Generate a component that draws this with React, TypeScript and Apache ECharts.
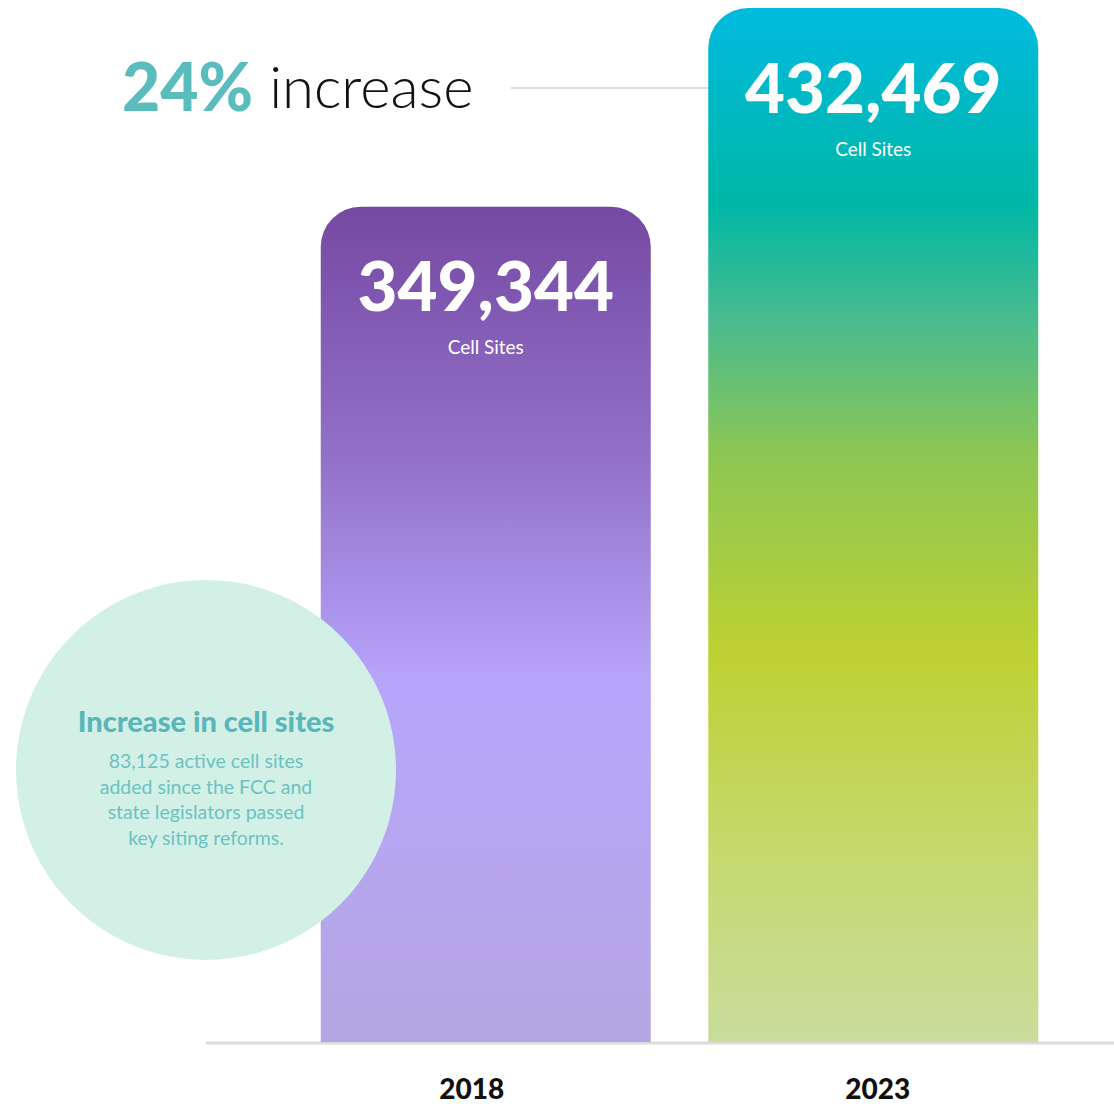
import React, { useEffect, useRef } from "react";
import * as echarts from "echarts";

const categories = ["2018", "2023"];
const cellSites = [349344, 432469];
const valueLabels = ["349,344", "432,469"];
const unitLabel = "Cell Sites";
const headlinePct = "24%";
const headlineWord = "increase";
const bubbleTitle = "Increase in cell sites";
const bubbleLines = [
  "83,125 active cell sites",
  "added since the FCC and",
  "state legislators passed",
  "key siting reforms.",
];

const FONT = "Lato, 'Noto Sans', sans-serif";

export default function App() {
  const ref = useRef<HTMLDivElement>(null);
  useEffect(() => {
    document.body.style.margin = "0";
    const chart = echarts.init(ref.current!, null, { renderer: "svg" });
    const grad2018 = new echarts.graphic.LinearGradient(0, 0, 0, 1, [
      { offset: 0, color: "#7549a2" },
      { offset: 0.3, color: "#9270c9" },
      { offset: 0.57, color: "#b8a5fc" },
      { offset: 1, color: "#b4a6e2" },
    ]);
    const grad2023 = new echarts.graphic.LinearGradient(0, 0, 0, 1, [
      { offset: 0, color: "#00bbe0" },
      { offset: 0.19, color: "#00b7a6" },
      { offset: 0.3, color: "#48bb8f" },
      { offset: 0.43, color: "#8cc654" },
      { offset: 0.62, color: "#bdd132" },
      { offset: 0.82, color: "#c6d86e" },
      { offset: 1, color: "#c9dd9c" },
    ]);
    const grads = [grad2018, grad2023];
    chart.setOption({
      animation: false,
      grid: { left: 292, right: 47, top: 8, bottom: 62, containLabel: false },
      xAxis: {
        type: "category",
        data: categories,
        axisLine: { show: false },
        axisTick: { show: false },
        axisLabel: {
          margin: 31,
          formatter: (v: string, i: number) => (i === 0 ? `{a|${v}}` : `{b|${v}}`),
          rich: {
            a: { fontSize: 28, fontWeight: 900, color: "#111", fontFamily: FONT, lineHeight: 30, padding: [0, 28, 0, 0] },
            b: { fontSize: 28, fontWeight: 900, color: "#111", fontFamily: FONT, lineHeight: 30, padding: [0, 0, 0, 9] },
          },
        },
      },
      yAxis: {
        type: "value",
        min: 0,
        max: cellSites[1],
        show: false,
        splitLine: { show: false },
      },
      series: [
        {
          type: "bar",
          barWidth: 330,
          z: 2,
          data: cellSites.map((v, i) => ({
            value: v,
            itemStyle: { color: grads[i], borderRadius: [40, 40, 0, 0] },
          })),
          label: {
            show: true,
            position: "insideTop",
            distance: 37,
            formatter: (p: any) => `{v|${valueLabels[p.dataIndex]}}\n{s|${unitLabel}}`,
            rich: {
              v: { fontSize: 69, fontWeight: 900, color: "#fff", fontFamily: FONT, lineHeight: 82, align: "center" },
              s: { fontSize: 19, color: "#fff", fontFamily: FONT, lineHeight: 42, align: "center" },
            },
          },
        },
      ],
      graphic: [
        {
          type: "line",
          z: 1,
          shape: { x1: 206, y1: 1043, x2: 1114, y2: 1043 },
          style: { stroke: "#dcdcdc", lineWidth: 3 },
        },
        {
          type: "line",
          z: 1,
          shape: { x1: 511, y1: 88, x2: 708, y2: 88 },
          style: { stroke: "#dddddd", lineWidth: 2 },
        },
        {
          type: "text",
          z: 5,
          x: 122,
          y: 85,
          style: {
            text: `{a|${headlinePct}}{b|${headlineWord}}`,
            verticalAlign: "middle",
            align: "left",
            rich: {
              a: { fontSize: 66, fontWeight: 900, fill: "#5bbcbd", fontFamily: FONT },
              b: { fontSize: 58, fontWeight: 300, fill: "#111", fontFamily: FONT, padding: [0, 0, 0, 16] },
            },
          },
        },
        {
          type: "circle",
          z: 10,
          shape: { cx: 206, cy: 770, r: 190 },
          style: { fill: "#d3f0e7" },
        },
        {
          type: "text",
          z: 11,
          x: 206,
          y: 720,
          style: {
            text: bubbleTitle,
            align: "center",
            verticalAlign: "middle",
            fontSize: 29,
            fontWeight: 900,
            fontFamily: FONT,
            fill: "#5ab7b8",
          },
        },
        {
          type: "text",
          z: 11,
          x: 206,
          y: 799,
          style: {
            text: bubbleLines.join("\n"),
            align: "center",
            verticalAlign: "middle",
            fontSize: 19.5,
            lineHeight: 25.7,
            fontFamily: FONT,
            fill: "#6cc2c0",
          },
        },
      ],
    });
    return () => chart.dispose();
  }, []);
  return <div ref={ref} style={{ width: 1114, height: 1104 }} />;
}
